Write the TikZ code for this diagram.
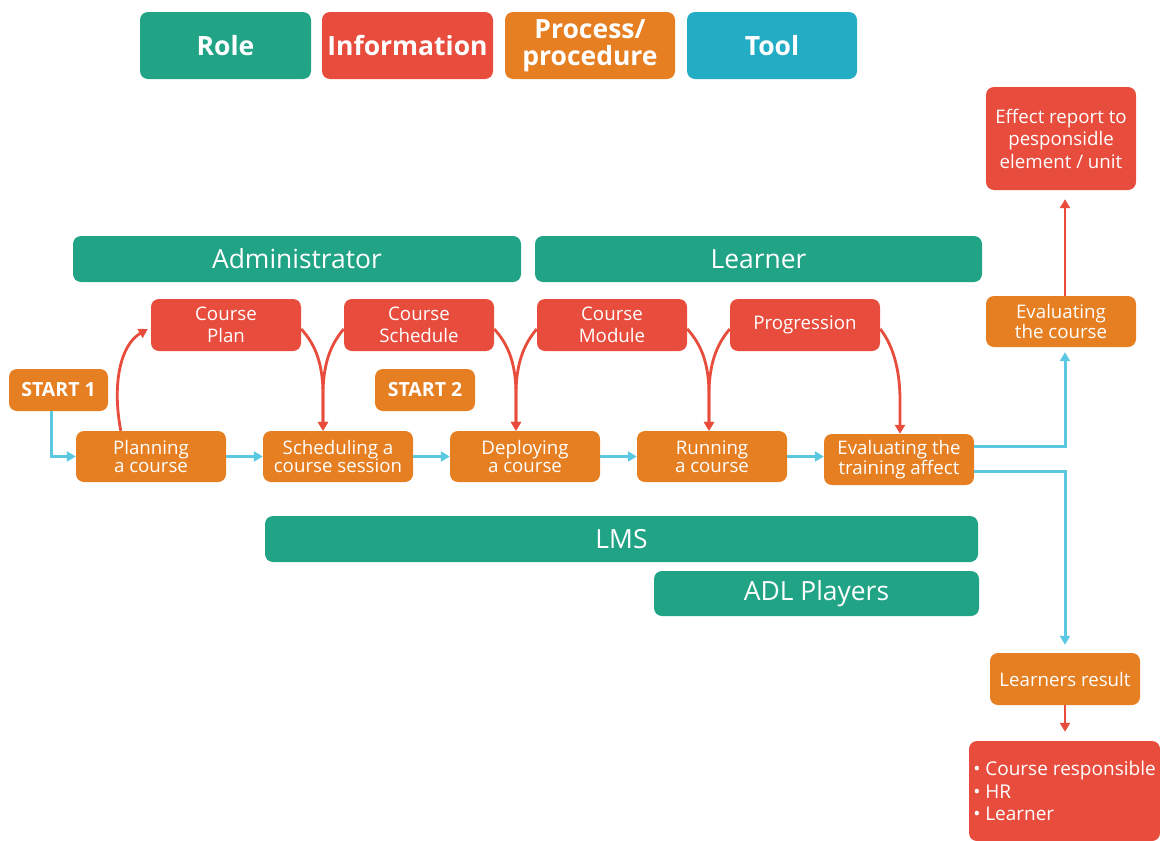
\documentclass[tikz,border=0pt]{standalone}
\usepackage{fontspec}
\setmainfont{Open Sans}
\usetikzlibrary{arrows.meta,calc}
\definecolor{rolec}{HTML}{21A386}
\definecolor{infoc}{HTML}{E84C3D}
\definecolor{procc}{HTML}{E67E22}
\definecolor{toolc}{HTML}{22ADC4}
\definecolor{flowc}{HTML}{5BC8E1}
\definecolor{redc}{HTML}{E74C3C}
\begin{document}
\begin{tikzpicture}[x=1pt,y=-1pt,
  box/.style={rounded corners=8pt, text=white, align=center, inner sep=0pt,
    font=\fontsize{18.7}{18.5}\selectfont},
  legend/.style={box, minimum height=67pt, font=\fontsize{26.5}{27}\selectfont\bfseries},
  rolebar/.style={box, fill=rolec, font=\fontsize{26.4}{28}\selectfont},
  info/.style={box, fill=infoc, font=\fontsize{18.7}{21.5}\selectfont},
  proc/.style={box, fill=procc},
  startbox/.style={box, fill=procc, minimum width=99pt, minimum height=42pt,
    font=\fontsize{19.5}{20}\selectfont\bfseries},
  flow/.style={draw=flowc, line width=3pt, -{Triangle[length=9pt,width=10pt]}},
  redarrow/.style={draw=redc, line width=2.8pt, -{Triangle[length=9pt,width=10pt]}},
]
\useasboundingbox (0,0) rectangle (1160,841);

% legend
\node[legend, fill=rolec, minimum width=171pt] (lrole) at (225.5,45.5) {Role};
\node[legend, fill=infoc, minimum width=171pt] (linfo) at (407.5,45.5) {Information};
\node[legend, fill=procc, minimum width=170pt] (lproc) at (590,45.5) {Process/\\procedure};
\node[legend, fill=toolc, minimum width=170pt] (ltool) at (772,45.5) {Tool};

% roles
\node[rolebar, minimum width=448pt, minimum height=46pt] (admin) at (297,259) {Administrator};
\node[rolebar, minimum width=447pt, minimum height=46pt] (learner) at (758.5,259) {Learner};
\node[rolebar, minimum width=713pt, minimum height=46pt] (lms) at (621.5,539) {LMS};
\node[rolebar, minimum width=325pt, minimum height=45pt] (adl) at (816.5,593.5) {ADL Players};

% information
\node[info, minimum width=150pt, minimum height=52pt] (cplan) at (226,325) {Course\\Plan};
\node[info, minimum width=150pt, minimum height=52pt] (csched) at (419,325) {Course\\Schedule};
\node[info, minimum width=150pt, minimum height=52pt] (cmod) at (612,325) {Course\\Module};
\node[info, minimum width=150pt, minimum height=52pt] (cprog) at (805,325) {Progression};

% starts
\node[startbox] (start1) at (58.5,390) {START 1};
\node[startbox, minimum width=100pt] (start2) at (425,390) {START 2};

% processes
\node[proc, minimum width=150pt, minimum height=51pt] (planning) at (151,456.5) {Planning\\a course};
\node[proc, minimum width=150pt, minimum height=51pt] (scheduling) at (338,456.5) {Scheduling a\\course session};
\node[proc, minimum width=150pt, minimum height=51pt] (deploying) at (525,456.5) {Deploying\\a course};
\node[proc, minimum width=150pt, minimum height=51pt] (running) at (712,456.5) {Running\\a course};
\node[proc, minimum width=150pt, minimum height=51pt] (evaltrain) at (899,459.5) {Evaluating the\\training affect};

% right column
\node[proc, minimum width=150pt, minimum height=51pt] (evalcourse) at (1061,321.5) {Evaluating\\the course};
\node[info, minimum width=150pt, minimum height=103pt, font=\fontsize{18.7}{22.5}\selectfont] (effect) at (1061,138.5) {Effect report to\\pesponsidle\\element / unit};
\node[proc, minimum width=150pt, minimum height=52pt] (lres) at (1065,679) {Learners result};
\node[info, minimum width=191pt, minimum height=100pt, align=left,
  font=\fontsize{19}{22.5}\selectfont] (resp) at (1064.5,791) {\textbullet\ Course responsible\\\textbullet\ HR\\\textbullet\ Learner};

% blue flow
\draw[flow] ($(start1.south west)+(43,0)$) |- (planning.west);
\draw[flow] (planning.east) -- (scheduling.west);
\draw[flow] (scheduling.east) -- (deploying.west);
\draw[flow] (deploying.east) -- (running.west);
\draw[flow] (running.east) -- (running.east -| evaltrain.west);
\coordinate (jup) at ($(evalcourse.south)+(4,5)$);
\coordinate (jdn) at ($(lres.north)+(0,-8)$);
\draw[flow] ($(evaltrain.east)+(0,-13)$) -| (jup);
\draw[flow] ($(evaltrain.east)+(0,12)$) -| (jdn);

% red straight
\draw[redarrow] ($(evalcourse.north)+(4,0)$) -- ($(effect.south)+(4,9)$);
\draw[redarrow] (lres.south) -- ($(resp.north)+(0.5,-9)$);

% red curves
\draw[redarrow] ($(planning.north west)+(45,0)$) .. controls (112,385) and (120,345) .. ($(cplan.west)+(-3,4)$);
\draw[redarrow] ($(cplan.east)+(0,4)$) .. controls (316,345) and (323,365) .. (323,395) -- (scheduling.north -| 323,0);
\draw[redarrow] ($(csched.west)+(0,4)$) .. controls (330,345) and (323,365) .. (323,395) -- (scheduling.north -| 323,0);
\draw[redarrow] ($(csched.east)+(0,4)$) .. controls (509,345) and (516,365) .. (516,395) -- (deploying.north -| 516,0);
\draw[redarrow] ($(cmod.west)+(0,4)$) .. controls (523,345) and (516,365) .. (516,395) -- (deploying.north -| 516,0);
\draw[redarrow] ($(cmod.east)+(0,4)$) .. controls (702,345) and (709,365) .. (709,395) -- (running.north -| 709,0);
\draw[redarrow] ($(cprog.west)+(0,4)$) .. controls (716,345) and (709,365) .. (709,395) -- (running.north -| 709,0);
\draw[redarrow] ($(cprog.east)+(0,4)$) .. controls (893,345) and (900,370) .. (900,400) -- (evaltrain.north -| 900,0);
\end{tikzpicture}
\end{document}
